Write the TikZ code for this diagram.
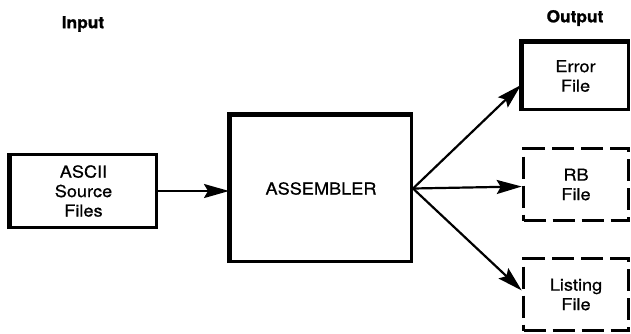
\documentclass[tikz,border=0pt]{standalone}
\usepackage{fontspec}
\setmainfont{TeX Gyre Heros}[FakeStretch=1.1,FakeBold=0.6]
\newfontfamily\headfont{TeX Gyre Heros}[FakeStretch=1.05,FakeBold=1.2]
\usetikzlibrary{arrows.meta}
\begin{document}
\begin{tikzpicture}[x=1pt,y=-1pt,
  lbl/.style={font=\fontsize{16.5}{19.5}\selectfont},
  box/.style={draw, line width=3pt, inner sep=0pt, align=center, lbl},
  dbox/.style={box, line width=3.5pt, dash pattern=on 22pt off 7pt},
  heavy/.style={line width=5pt, line join=miter},
  conn/.style={line width=2.2pt, -{Stealth[length=25pt,width=14pt,inset=4pt]}},
  heading/.style={font=\fontsize{16.5}{19.5}\selectfont\headfont\bfseries}
]
\useasboundingbox (0,0) rectangle (631,333);
\fill[white] (0,0) rectangle (631,333);
\node[heading] (in) at (83,24) {Input};
\node[heading] (out) at (575,18) {Output};
\node[box, minimum width=146pt, minimum height=73pt] (ascii) at (83.5,191) {ASCII\\Source\\Files};
\node[box, minimum width=181pt, minimum height=146pt] (asm) at (321,188.5) {ASSEMBLER};
\node[box, minimum width=106pt, minimum height=67pt] (err) at (575.5,76) {Error\\File};
\node[dbox, minimum width=105pt, minimum height=72pt] (rb) at (576,184.5) {RB\\File};
\node[dbox, minimum width=105pt, minimum height=72pt] (lst) at (576,294.5) {Listing\\File};
\draw[heavy] (asm.south west) -- (asm.north west) -- (asm.north east);
\draw[heavy] (err.south west) -- (err.north west) -- (err.north east);
\draw[line width=4pt] (ascii.south west) -- (ascii.north west);
\draw[conn] (ascii.east) -- (ascii.east -| asm.west);
\draw[conn] (asm.east) -- ([yshift=-9pt]err.west);
\draw[conn] (asm.east) -- ([yshift=-2pt]rb.west);
\draw[conn] (asm.east) -- ([yshift=4pt]lst.west);
\end{tikzpicture}
\end{document}
